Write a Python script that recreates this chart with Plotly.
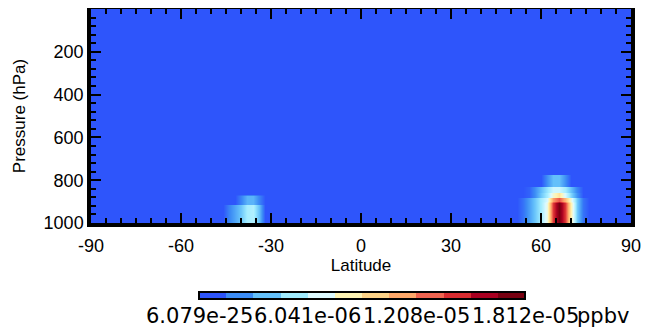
import plotly.graph_objects as go

# ---------------- data ----------------
LATITUDES = list(range(-90, 91, 2))
# pressure rows of the grid (hPa); band edges of the plumes sit on these rows
PRESSURE_ROWS = [1000, 918, 913, 905, 895, 882, 878, 872, 866, 862, 858,
                 832, 828, 778, 772, 700, 0]

# southern plume: (bottom hPa, top hPa, values in 1e-6 ppbv at SOUTH_LATS)
SOUTH_LATS = [-46, -44, -42, -40, -38, -36, -34, -32]
SOUTH_BANDS = [
    (1000, 918, [0, 1.45, 2.5, 3.6, 5.1, 5.4, 3.3, 0]),
    (913, 872, [0, 0.0, 0.0, 1.45, 2.9, 2.9, 1.45, 0]),
]

# northern plume: (bottom hPa, top hPa, values in 1e-6 ppbv at NORTH_LATS)
NORTH_LATS = [52, 54, 56, 58, 60, 62, 64, 66, 68, 70, 72, 74, 76]
NORTH_BANDS = [
    (1000, 905, [0, 0.9, 2.2, 3.6, 5.1, 7.2, 14.5, 18.1, 14.5, 8.2, 3.6, 0.9, 0]),
    (895, 882, [0, 0.9, 2.2, 3.6, 5.1, 6.5, 11.8, 13.6, 11.0, 7.2, 3.6, 0.9, 0]),
    (878, 862, [0, 0.0, 0.4, 1.8, 3.6, 5.1, 7.6, 9.1, 6.5, 4.0, 1.8, 0, 0]),
    (858, 832, [0, 0.0, 0.4, 1.8, 3.3, 4.7, 6.2, 6.2, 5.1, 3.3, 1.4, 0, 0]),
    (828, 778, [0, 0.0, 0.0, 0.0, 0.0, 1.8, 3.3, 3.3, 1.8, 0, 0, 0, 0]),
]
VALUE_UNIT = 1e-6

CBAR_MIN = 6.079e-25
CBAR_MAX = 1.812e-05
CBAR_TICKS = [6.079e-25, 6.041e-06, 1.208e-05, 1.812e-05]
CBAR_TICK_LABELS = ["6.079e-25", "6.041e-06", "1.208e-05", "1.812e-05"]
UNITS = "ppbv"

X_TICKS = [-90, -60, -30, 0, 30, 60, 90]
X_TICK_LABELS = ["-90", "-60", "-30", "0", "30", "60", "90"]
Y_TICKS = [200, 400, 600, 800, 1000]
Y_TICK_LABELS = ["200", "400", "600", "800", "1000"]

COLORS = ['#2e55fb', '#3c8cf5', '#64c0fa', '#a0ecff', '#dcfaff', '#fff4b4',
          '#ffd488', '#ffa86a', '#f06450', '#d82c30', '#a80020', '#780010']

# ---------------- layout constants ----------------
# The page body has a default 8px margin, so the figure is sized/offset to
# fill the 660x331 window exactly.  Pixel constants below are window pixels.
BODY = 8
WIN_W, WIN_H = 660, 331
W, H = WIN_W - BODY, WIN_H - BODY
PLOT_L, PLOT_R, PLOT_T, PLOT_B = 91, 631, 9, 223
ML, MR = PLOT_L - BODY, W - (PLOT_R - BODY)
MT, MB = PLOT_T - BODY, H - (PLOT_B - BODY)
PLOT_W = PLOT_R - PLOT_L
PLOT_H = PLOT_B - PLOT_T
CB_LEFT, CB_LEN, CB_TOP = 199, 326, 292
CB_LABEL_Y = 316


def px_to_paper_x(px):
    return (px - PLOT_L) / PLOT_W


def px_to_paper_y(py):
    return (PLOT_B - py) / PLOT_H


# ---------------- build grid ----------------
z = [[0.0 for _ in LATITUDES] for _ in PRESSURE_ROWS]
for lats, bands in ((SOUTH_LATS, SOUTH_BANDS), (NORTH_LATS, NORTH_BANDS)):
    for i, p in enumerate(PRESSURE_ROWS):
        for p_bot, p_top, row in bands:
            if p_top <= p <= p_bot:
                for lat, v in zip(lats, row):
                    z[i][LATITUDES.index(lat)] = v * VALUE_UNIT

n = len(COLORS)
smooth_scale = [[k / (n - 1), c] for k, c in enumerate(COLORS)]
step_scale = []
for k, c in enumerate(COLORS):
    step_scale.append([k / n, c])
    step_scale.append([(k + 1) / n, c])

FONT = "Liberation Sans, Arial, Helvetica, sans-serif"
CB_FONT = "DejaVu Sans, Verdana, sans-serif"

fig = go.Figure()
fig.add_trace(go.Heatmap(
    x=LATITUDES, y=PRESSURE_ROWS, z=z,
    zmin=0, zmax=CBAR_MAX, colorscale=smooth_scale,
    zsmooth="best", showscale=False, hoverinfo="skip",
))
fig.add_trace(go.Scatter(
    x=[None], y=[None], mode="markers", showlegend=False, hoverinfo="skip",
    marker=dict(
        color=[0], cmin=CBAR_MIN, cmax=CBAR_MAX, colorscale=step_scale, showscale=True,
        colorbar=dict(
            orientation="h", lenmode="pixels", len=CB_LEN, thickness=7,
            x=px_to_paper_x(CB_LEFT + CB_LEN / 2), xanchor="center",
            y=px_to_paper_y(CB_TOP), yanchor="top",
            xpad=0, ypad=0, outlinewidth=2, outlinecolor="black",
            showticklabels=False, ticks="",
        ),
    ),
))

for val, lab in zip(CBAR_TICKS, CBAR_TICK_LABELS):
    frac = (val - CBAR_MIN) / (CBAR_MAX - CBAR_MIN)
    fig.add_annotation(
        text=lab, xref="paper", yref="paper",
        x=px_to_paper_x(CB_LEFT + frac * CB_LEN), y=px_to_paper_y(CB_LABEL_Y),
        xanchor="center", yanchor="middle", showarrow=False,
        font=dict(family=CB_FONT, size=21, color="black"),
    )
fig.add_annotation(
    text=UNITS, xref="paper", yref="paper",
    x=px_to_paper_x(575), y=px_to_paper_y(CB_LABEL_Y),
    xanchor="left", yanchor="middle", showarrow=False,
    font=dict(family=CB_FONT, size=21, color="black"),
)

axis_common = dict(
    showline=True, linewidth=3.5, linecolor="black", mirror="allticks",
    ticks="inside", ticklen=10, tickwidth=2, tickcolor="black",
    showgrid=False, zeroline=False,
    tickfont=dict(family=FONT, size=18, color="black"),
)
fig.update_xaxes(
    range=[-90, 90], tickmode="array", tickvals=X_TICKS, ticktext=X_TICK_LABELS,
    ticklabelstandoff=4,
    minor=dict(ticks="inside", ticklen=5, tickwidth=2, dtick=5, tick0=0, tickcolor="black"),
    title=dict(text="Latitude", font=dict(family=FONT, size=17, color="black"), standoff=2),
    **axis_common,
)
fig.update_yaxes(
    range=[1000, 0], tickmode="array", tickvals=Y_TICKS, ticktext=Y_TICK_LABELS,
    minor=dict(ticks="inside", ticklen=5, tickwidth=2, dtick=40, tick0=0, tickcolor="black"),
    title=dict(text="Pressure (hPa)", font=dict(family=FONT, size=17, color="black"), standoff=15),
    **axis_common,
)
fig.update_layout(
    width=W, height=H,
    margin=dict(l=ML, r=MR, t=MT, b=MB, autoexpand=False),
    paper_bgcolor="white", plot_bgcolor="#2e55fb",
    showlegend=False,
)
fig.write_html("out.html")
